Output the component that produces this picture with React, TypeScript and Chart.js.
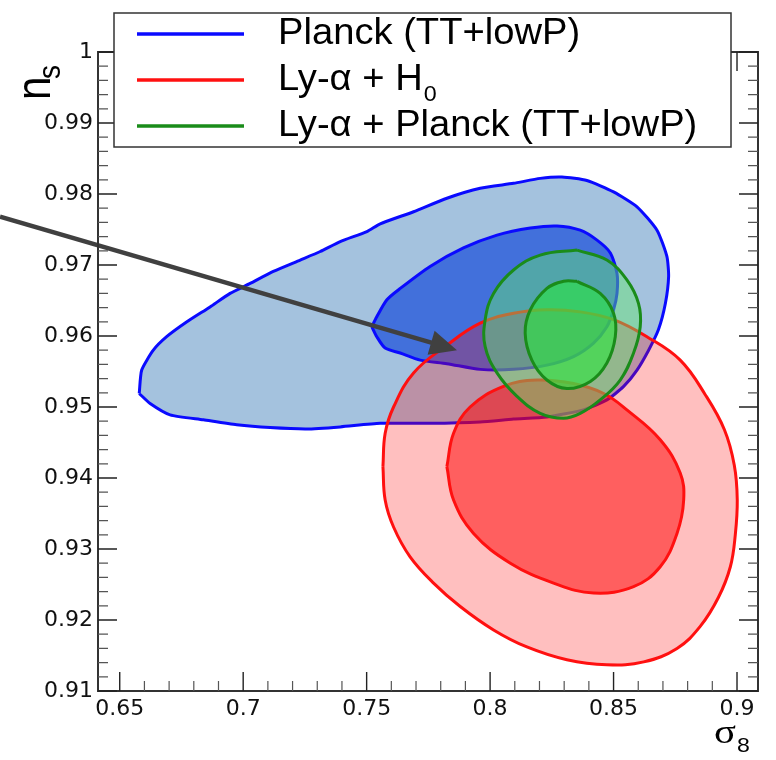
import { useEffect, useRef } from "react";
import { Chart, registerables } from "chart.js";

Chart.register(...registerables);

// ---- axes ----
const X_RANGE = [0.6412, 0.9085];
const Y_RANGE = [0.91, 1.0];
const X_TICKS = [0.65, 0.7, 0.75, 0.8, 0.85, 0.9];
const Y_TICKS = [0.91, 0.92, 0.93, 0.94, 0.95, 0.96, 0.97, 0.98, 0.99, 1.0];
const X_MINOR_STEP = 0.01;
const Y_MINOR_STEP = 0.002;

// ---- legend ----
const SERIES_LABELS = ["Planck (TT+lowP)", "Ly-\u03b1 + H", "Ly-\u03b1 + Planck (TT+lowP)"];
const SERIES_SUBSCRIPTS = ["", "0", ""];

// ---- Planck (TT+lowP) contours ----
const PLANCK_95_X = [0.6579, 0.6589, 0.6636, 0.669, 0.6772, 0.6866, 0.6947, 0.7028, 0.7122, 0.7231, 0.7312, 0.7393, 0.7501, 0.7555, 0.769, 0.7825, 0.796, 0.8095, 0.8203, 0.8291, 0.8392, 0.85, 0.8595, 0.8676, 0.8716, 0.8723, 0.871, 0.8682, 0.8642, 0.8595, 0.8541, 0.8473, 0.8378, 0.823, 0.8095, 0.796, 0.7757, 0.7555, 0.7393, 0.7258, 0.7109, 0.6974, 0.6839, 0.6704, 0.6623];
const PLANCK_95_Y = [0.9519, 0.9552, 0.958, 0.9599, 0.962, 0.9641, 0.966, 0.9674, 0.9691, 0.9707, 0.9719, 0.9733, 0.9747, 0.9758, 0.9775, 0.9794, 0.9808, 0.9815, 0.9822, 0.9824, 0.9819, 0.9803, 0.9782, 0.9749, 0.9712, 0.9684, 0.9646, 0.9609, 0.958, 0.9552, 0.9529, 0.951, 0.9496, 0.9486, 0.9483, 0.9479, 0.9477, 0.9477, 0.9472, 0.9469, 0.9471, 0.9475, 0.9482, 0.9489, 0.9505];
const PLANCK_68_X = [0.7521, 0.7541, 0.7582, 0.7636, 0.7757, 0.7892, 0.8028, 0.8163, 0.8271, 0.8365, 0.8433, 0.8487, 0.8514, 0.8514, 0.85, 0.8473, 0.8419, 0.8338, 0.823, 0.8095, 0.796, 0.7825, 0.7717, 0.7636, 0.7575, 0.7541];
const PLANCK_68_Y = [0.9613, 0.9627, 0.9651, 0.9667, 0.9698, 0.9724, 0.9742, 0.9752, 0.9755, 0.9749, 0.9735, 0.9717, 0.9688, 0.966, 0.9637, 0.9613, 0.959, 0.9571, 0.9559, 0.9553, 0.9553, 0.9561, 0.9566, 0.9576, 0.9583, 0.9599];

// ---- Ly-alpha + H0 contours ----
const LYA_H0_95_X = [0.7566, 0.7575, 0.7609, 0.769, 0.7825, 0.796, 0.8095, 0.823, 0.8365, 0.85, 0.8635, 0.877, 0.8872, 0.8949, 0.8989, 0.9001, 0.8993, 0.8973, 0.8925, 0.8851, 0.8757, 0.8622, 0.8473, 0.8311, 0.8149, 0.8014, 0.7879, 0.7771, 0.7676, 0.7609, 0.7575];
const LYA_H0_95_Y = [0.9416, 0.9463, 0.95, 0.9548, 0.9587, 0.9618, 0.9632, 0.9637, 0.9634, 0.9623, 0.9599, 0.9566, 0.9517, 0.9468, 0.9418, 0.9369, 0.932, 0.9275, 0.9232, 0.9191, 0.916, 0.9141, 0.9137, 0.9144, 0.9162, 0.9186, 0.9219, 0.9252, 0.9289, 0.9331, 0.9369];
const LYA_H0_68_X = [0.7825, 0.7852, 0.7919, 0.8054, 0.819, 0.8338, 0.846, 0.8554, 0.8689, 0.877, 0.8784, 0.8757, 0.8689, 0.8581, 0.8419, 0.8257, 0.8082, 0.7933, 0.7852];
const LYA_H0_68_Y = [0.9416, 0.9463, 0.95, 0.9529, 0.9538, 0.9533, 0.9519, 0.9496, 0.9454, 0.9407, 0.9369, 0.9322, 0.9275, 0.9247, 0.9238, 0.9252, 0.928, 0.9322, 0.9369];

// ---- Ly-alpha + Planck contours ----
const LYA_PL_95_X = [0.8352, 0.8473, 0.8554, 0.8601, 0.8608, 0.8581, 0.8527, 0.8446, 0.8365, 0.8297, 0.8203, 0.8109, 0.8028, 0.798, 0.798, 0.8014, 0.8095, 0.8203];
const LYA_PL_95_Y = [0.9721, 0.9707, 0.9679, 0.9646, 0.9613, 0.9576, 0.9538, 0.951, 0.9491, 0.9484, 0.9491, 0.9515, 0.9548, 0.9585, 0.9623, 0.966, 0.9693, 0.9714];
const LYA_PL_68_X = [0.8352, 0.8446, 0.85, 0.8507, 0.8473, 0.8406, 0.8311, 0.823, 0.8169, 0.8142, 0.8163, 0.823, 0.8297];
const LYA_PL_68_Y = [0.9677, 0.966, 0.9632, 0.9599, 0.9562, 0.9536, 0.9526, 0.9538, 0.9566, 0.9604, 0.9637, 0.9667, 0.9677];

// ---- annotation arrow (data coordinates) ----
const ARROW_X = [0.6015, 0.7866];
const ARROW_Y = [0.9768, 0.958];

const BLUE = "#0a0aff";
const RED = "#ff1010";
const GREEN = "#1a8c1a";

function closed(xs: number[], ys: number[]) {
  const pts = xs.map((x, i) => ({ x, y: ys[i] }));
  pts.push({ ...pts[0] });
  return pts;
}

function contour(
  xs: number[],
  ys: number[],
  fill: string,
  border: string,
  order: number,
  tension: number,
  legendIndex: number
) {
  return {
    data: closed(xs, ys),
    showLine: true,
    fill: "shape",
    backgroundColor: fill,
    borderColor: border,
    borderWidth: 3,
    pointRadius: 0,
    pointHoverRadius: 0,
    tension,
    order,
    legendIndex,
  } as any;
}

const fmt = (v: number) => String(Number(v.toFixed(3)));

const decorPlugin = {
  id: "decor",
  afterDatasetsDraw(chart: any) {
    const { ctx, chartArea: a, scales } = chart;
    const xs = scales.x;
    const ys = scales.y;

    // arrow
    const x0 = xs.getPixelForValue(ARROW_X[0]);
    const y0 = ys.getPixelForValue(ARROW_Y[0]);
    const x1 = xs.getPixelForValue(ARROW_X[1]);
    const y1 = ys.getPixelForValue(ARROW_Y[1]);
    const ang = Math.atan2(y1 - y0, x1 - x0);
    const c = Math.cos(ang);
    const s = Math.sin(ang);
    const headLen = 27;
    const headW = 12.5;
    const bx = x1 - headLen * c;
    const by = y1 - headLen * s;
    ctx.save();
    ctx.strokeStyle = "#404040";
    ctx.fillStyle = "#404040";
    ctx.lineWidth = 4.5;
    ctx.beginPath();
    ctx.moveTo(x0, y0);
    ctx.lineTo(bx + 2 * c, by + 2 * s);
    ctx.stroke();
    ctx.beginPath();
    ctx.moveTo(x1, y1);
    ctx.lineTo(bx + headW * s, by - headW * c);
    ctx.lineTo(bx - headW * s, by + headW * c);
    ctx.closePath();
    ctx.fill();

    // frame
    ctx.strokeStyle = "#333";
    ctx.lineWidth = 2;
    ctx.strokeRect(a.left, a.top, a.right - a.left, a.bottom - a.top);

    // ticks (inward on all four sides)
    const major = 19;
    const minor = 10;
    ctx.lineWidth = 1.4;
    const xTickLine = (v: number, len: number) => {
      const p = xs.getPixelForValue(v);
      ctx.beginPath();
      ctx.moveTo(p, a.bottom);
      ctx.lineTo(p, a.bottom - len);
      ctx.moveTo(p, a.top);
      ctx.lineTo(p, a.top + len);
      ctx.stroke();
    };
    const yTickLine = (v: number, len: number) => {
      const p = ys.getPixelForValue(v);
      ctx.beginPath();
      ctx.moveTo(a.left, p);
      ctx.lineTo(a.left + len, p);
      ctx.moveTo(a.right, p);
      ctx.lineTo(a.right - len, p);
      ctx.stroke();
    };
    ctx.strokeStyle = "#222";
    X_TICKS.forEach((v) => xTickLine(v, major));
    Y_TICKS.forEach((v) => yTickLine(v, major));
    ctx.strokeStyle = "#555";
    ctx.lineWidth = 1.2;
    for (let v = X_TICKS[0] - X_MINOR_STEP; v >= X_RANGE[0]; v -= X_MINOR_STEP) xTickLine(v, minor);
    X_TICKS.forEach((m) => {
      for (let k = 1; k < 5; k++) {
        const v = m + k * X_MINOR_STEP;
        if (v <= X_RANGE[1]) xTickLine(v, minor);
      }
    });
    Y_TICKS.forEach((m) => {
      for (let k = 1; k < 5; k++) {
        const v = m + k * Y_MINOR_STEP;
        if (v <= Y_RANGE[1] + 1e-9) yTickLine(v, minor);
      }
    });
    ctx.restore();
  },
  afterDraw(chart: any) {
    const { ctx, chartArea: a } = chart;
    ctx.save();

    // legend box
    const lx = a.left + 16;
    const ly = 13;
    const lw = 617;
    const lh = 134;
    ctx.fillStyle = "#fff";
    ctx.fillRect(lx, ly, lw, lh);
    ctx.strokeStyle = "#333";
    ctx.lineWidth = 1.5;
    ctx.strokeRect(lx, ly, lw, lh);

    const entries = chart.data.datasets
      .filter((d: any) => d.legendIndex >= 0)
      .sort((p: any, q: any) => p.legendIndex - q.legendIndex);
    entries.forEach((d: any, i: number) => {
      const rowY = ly + 21 + i * 46;
      ctx.strokeStyle = d.borderColor;
      ctx.lineWidth = 3.5;
      ctx.beginPath();
      ctx.moveTo(lx + 23, rowY);
      ctx.lineTo(lx + 130, rowY);
      ctx.stroke();
      ctx.fillStyle = "#000";
      ctx.textBaseline = "alphabetic";
      ctx.textAlign = "left";
      const label = SERIES_LABELS[d.legendIndex];
      const tx = lx + 164;
      const base = rowY + 9.5;
      ctx.save();
      ctx.translate(tx, base);
      ctx.scale(1.06, 1);
      ctx.font = "36px 'Liberation Sans'";
      ctx.fillText(label, 0, 0);
      const w = ctx.measureText(label).width;
      const sub = SERIES_SUBSCRIPTS[d.legendIndex];
      if (sub) {
        ctx.font = "22px 'Liberation Sans'";
        ctx.fillText(sub, w + 1, 11);
      }
      ctx.restore();
    });

    // y axis title: n_s (rotated)
    ctx.fillStyle = "#000";
    ctx.save();
    ctx.translate(50, 100);
    ctx.rotate(-Math.PI / 2);
    ctx.scale(1, 1.15);
    ctx.font = "42px 'Liberation Sans'";
    ctx.textBaseline = "alphabetic";
    ctx.fillText("n", 0, 0);
    ctx.font = "28px 'Liberation Sans'";
    ctx.fillText("s", 21, 9);
    ctx.restore();

    // x axis title: sigma_8
    ctx.save();
    ctx.translate(714, 743);
    ctx.scale(1.2, 1);
    ctx.font = "34px 'Liberation Serif'";
    ctx.fillText("\u03c3", 0, 0);
    const sw = ctx.measureText("\u03c3").width * 1.2;
    ctx.restore();
    ctx.save();
    ctx.translate(714 + sw + 1, 752);
    ctx.scale(1.1, 1);
    ctx.font = "21px 'Liberation Sans'";
    ctx.fillText("8", 0, 0);
    ctx.restore();

    ctx.restore();
  },
};

export default function App() {
  const ref = useRef<HTMLCanvasElement>(null);
  useEffect(() => {
    const canvas = ref.current;
    if (!canvas) return;
    const datasets = [
      contour(PLANCK_95_X, PLANCK_95_Y, "#a4c2de", BLUE, 6, 0.2, 0),
      contour(PLANCK_68_X, PLANCK_68_Y, "#4270db", BLUE, 5, 0.25, -1),
      contour(LYA_H0_95_X, LYA_H0_95_Y, "rgba(255,0,0,0.25)", RED, 4, 0.4, 1),
      contour(LYA_H0_68_X, LYA_H0_68_Y, "rgba(255,0,0,0.5)", RED, 3, 0.4, -1),
      contour(LYA_PL_95_X, LYA_PL_95_Y, "rgba(100,230,110,0.45)", GREEN, 2, 0.4, 2),
      contour(LYA_PL_68_X, LYA_PL_68_Y, "rgba(40,230,60,0.6)", GREEN, 1, 0.4, -1),
    ];
    const chart = new Chart(canvas, {
      type: "scatter",
      data: { datasets },
      plugins: [decorPlugin],
      options: {
        responsive: false,
        animation: false,
        devicePixelRatio: 1,
        events: [],
        layout: { padding: { top: 52, right: 18, left: 0, bottom: 0 } },
        plugins: { legend: { display: false }, tooltip: { enabled: false } },
        scales: {
          x: {
            type: "linear",
            min: X_RANGE[0],
            max: X_RANGE[1],
            grid: { display: false, drawTicks: false },
            border: { display: false },
            afterBuildTicks: (s: any) => {
              s.ticks = X_TICKS.map((v) => ({ value: v }));
            },
            afterFit: (s: any) => {
              s.height = 69;
            },
            ticks: {
              autoSkip: false,
              maxRotation: 0,
              padding: 5,
              color: "#111",
              font: { family: "'DejaVu Sans'", size: 22 },
              callback: (v: any) => fmt(Number(v)),
            },
          },
          y: {
            type: "linear",
            min: Y_RANGE[0],
            max: Y_RANGE[1],
            grid: { display: false, drawTicks: false },
            border: { display: false },
            afterBuildTicks: (s: any) => {
              s.ticks = Y_TICKS.map((v) => ({ value: v }));
            },
            afterFit: (s: any) => {
              s.width = 98;
            },
            ticks: {
              autoSkip: false,
              padding: 5,
              color: "#111",
              font: { family: "'DejaVu Sans'", size: 22 },
              callback: (v: any) => fmt(Number(v)),
            },
          },
        },
      } as any,
    });
    return () => chart.destroy();
  }, []);
  return (
    <div style={{ position: "fixed", left: 0, top: 0, width: 776, height: 760, background: "#fff" }}>
      <canvas ref={ref} width={776} height={760} style={{ width: 776, height: 760, display: "block" }} />
    </div>
  );
}
